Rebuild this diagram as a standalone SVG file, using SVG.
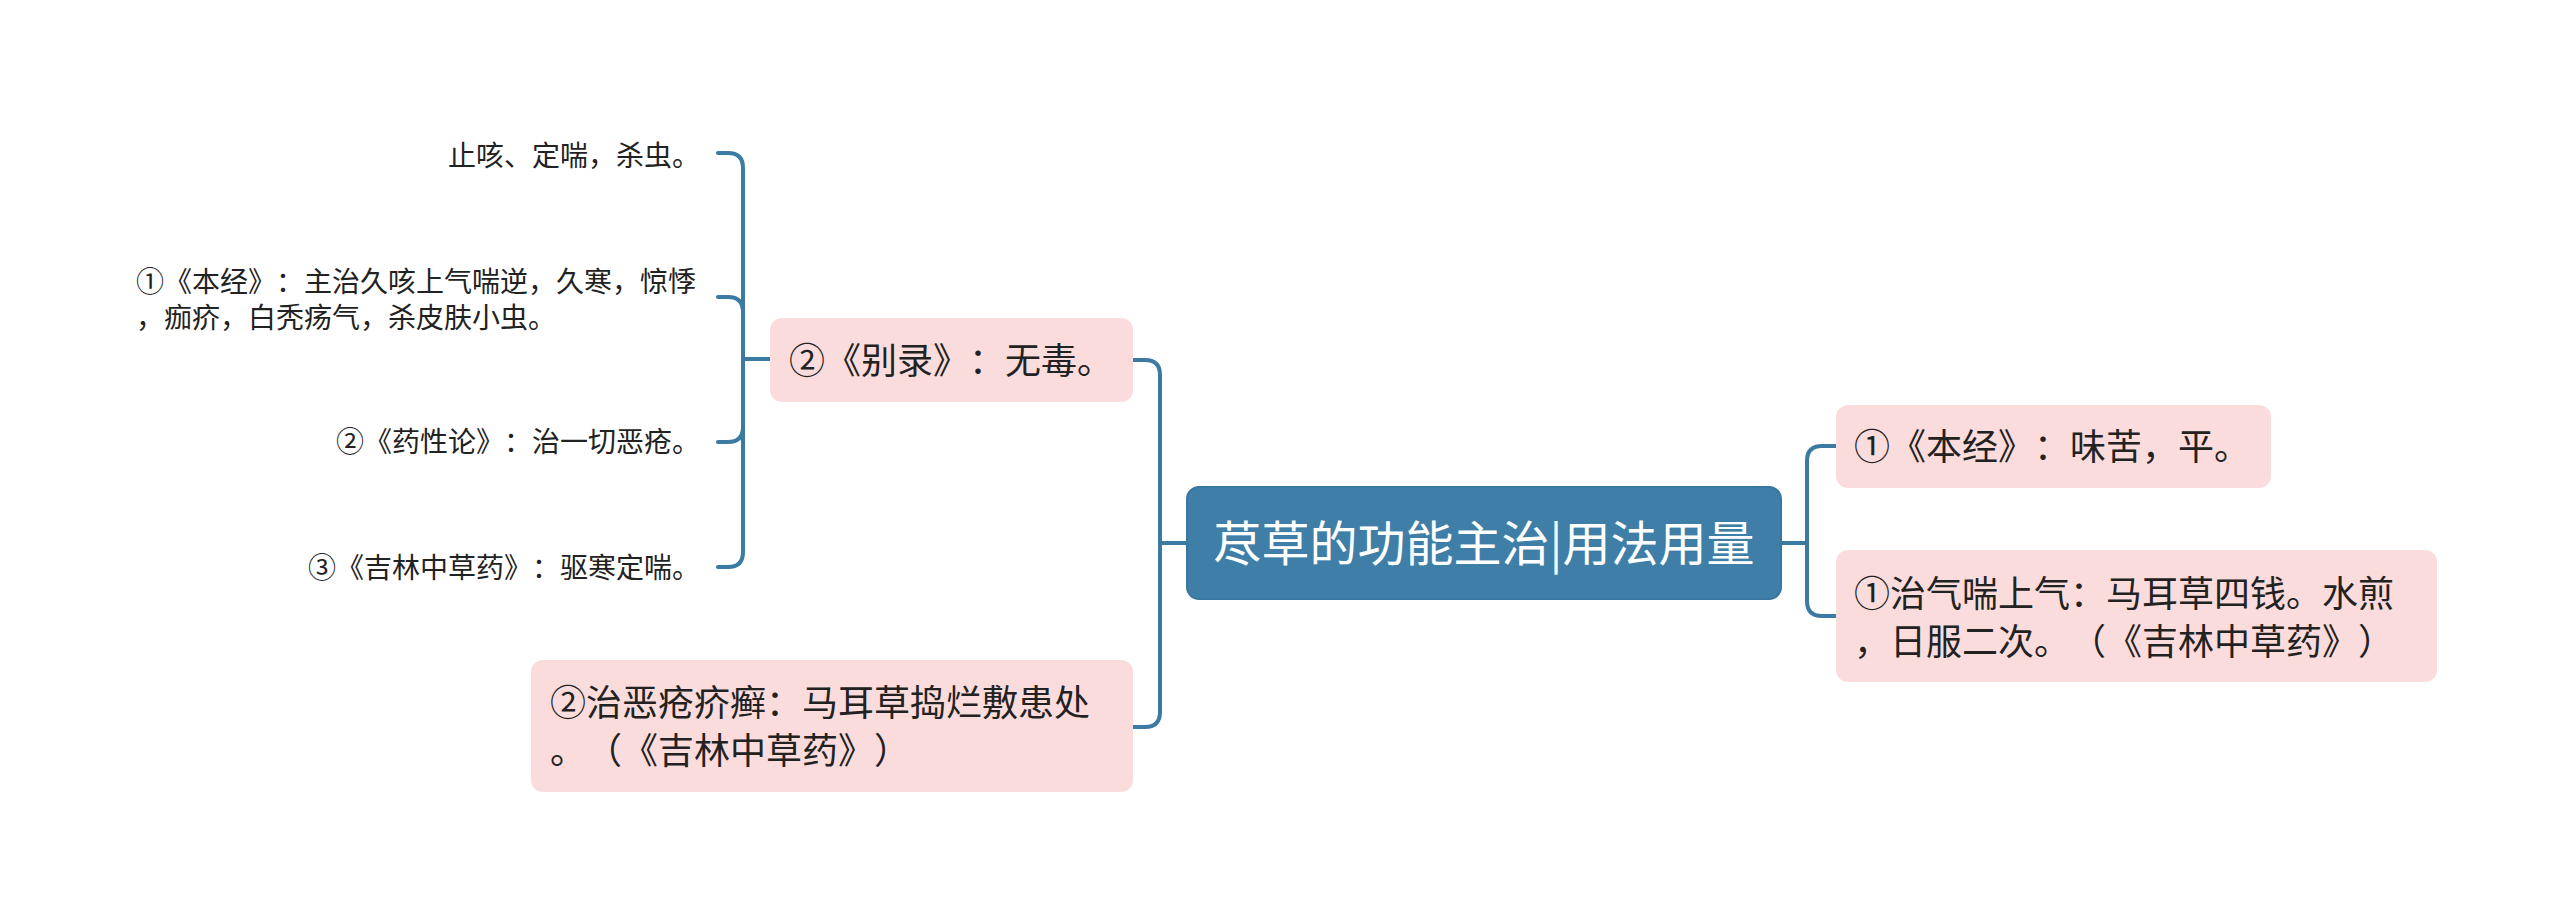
<svg xmlns="http://www.w3.org/2000/svg" width="2560" height="915" viewBox="0 0 2560 915">
<style>
.bg{fill:#ffffff}
.conn path{fill:none;stroke:#3b7aa2;stroke-width:4;stroke-linecap:round}
.sub{fill:#fbdcdc}
.root{fill:#3f7fa7;stroke:#3a77a0;stroke-width:2}
.t{font-family:"Noto Sans CJK SC","Liberation Sans",sans-serif;fill:#222222;text-spacing-trim:space-all;font-feature-settings:"chws" 0,"halt" 0,"palt" 0}
.leaf{font-size:28px}
.node{font-size:36px}
.roott{font-size:48px;fill:#ffffff}
</style>
<rect class="bg" x="0" y="0" width="2560" height="915"/>
<g id="connectors" class="conn">
  <path d="M1187 543 H1160"/>
  <path d="M1160 543 V375 Q1160 360 1145 360 H1133"/>
  <path d="M1160 543 V712 Q1160 727 1145 727 H1133"/>
  <path d="M1781 543 H1807"/>
  <path d="M1807 543 V461 Q1807 446 1822 446 H1836"/>
  <path d="M1807 543 V601 Q1807 616 1822 616 H1836"/>
  <path d="M770 359 H743"/>
  <path d="M743 359 V168 Q743 153 728 153 H718"/>
  <path d="M743 359 V312 Q743 297 728 297 H718"/>
  <path d="M743 359 V427 Q743 442 728 442 H718"/>
  <path d="M743 359 V552 Q743 567 728 567 H718"/>
</g>
<g id="root">
  <rect class="root" x="1187" y="487" width="594" height="112" rx="12"/>
  <text class="t roott" x="1484" y="561" text-anchor="middle">荩草的功能主治|用法用量</text>
</g>
<g id="right1">
  <rect class="sub" x="1836" y="405" width="435" height="83" rx="12"/>
  <text class="t node" x="1854" y="460">①《本经》：味苦，平。</text>
</g>
<g id="right2">
  <rect class="sub" x="1836" y="550" width="601" height="132" rx="12"/>
  <text class="t node" x="1854" y="607">①治气喘上气：马耳草四钱。水煎</text>
  <text class="t node" x="1854" y="655">，日服二次。（《吉林中草药》）</text>
</g>
<g id="left1">
  <rect class="sub" x="770" y="318" width="363" height="84" rx="12"/>
  <text class="t node" x="789" y="374">②《别录》：无毒。</text>
</g>
<g id="left2">
  <rect class="sub" x="531" y="660" width="602" height="132" rx="12"/>
  <text class="t node" x="550" y="716">②治恶疮疥癣：马耳草捣烂敷患处</text>
  <text class="t node" x="550" y="764">。（《吉林中草药》）</text>
</g>
<g id="leaf1">
  <text class="t leaf" x="700" y="166" text-anchor="end">止咳、定喘，杀虫。</text>
</g>
<g id="leaf2">
  <text class="t leaf" x="136" y="292">①《本经》：主治久咳上气喘逆，久寒，惊悸</text>
  <text class="t leaf" x="136" y="328">，痂疥，白秃疡气，杀皮肤小虫。</text>
</g>
<g id="leaf3">
  <text class="t leaf" x="700" y="452" text-anchor="end">②《药性论》：治一切恶疮。</text>
</g>
<g id="leaf4">
  <text class="t leaf" x="700" y="578" text-anchor="end">③《吉林中草药》：驱寒定喘。</text>
</g>
</svg>
